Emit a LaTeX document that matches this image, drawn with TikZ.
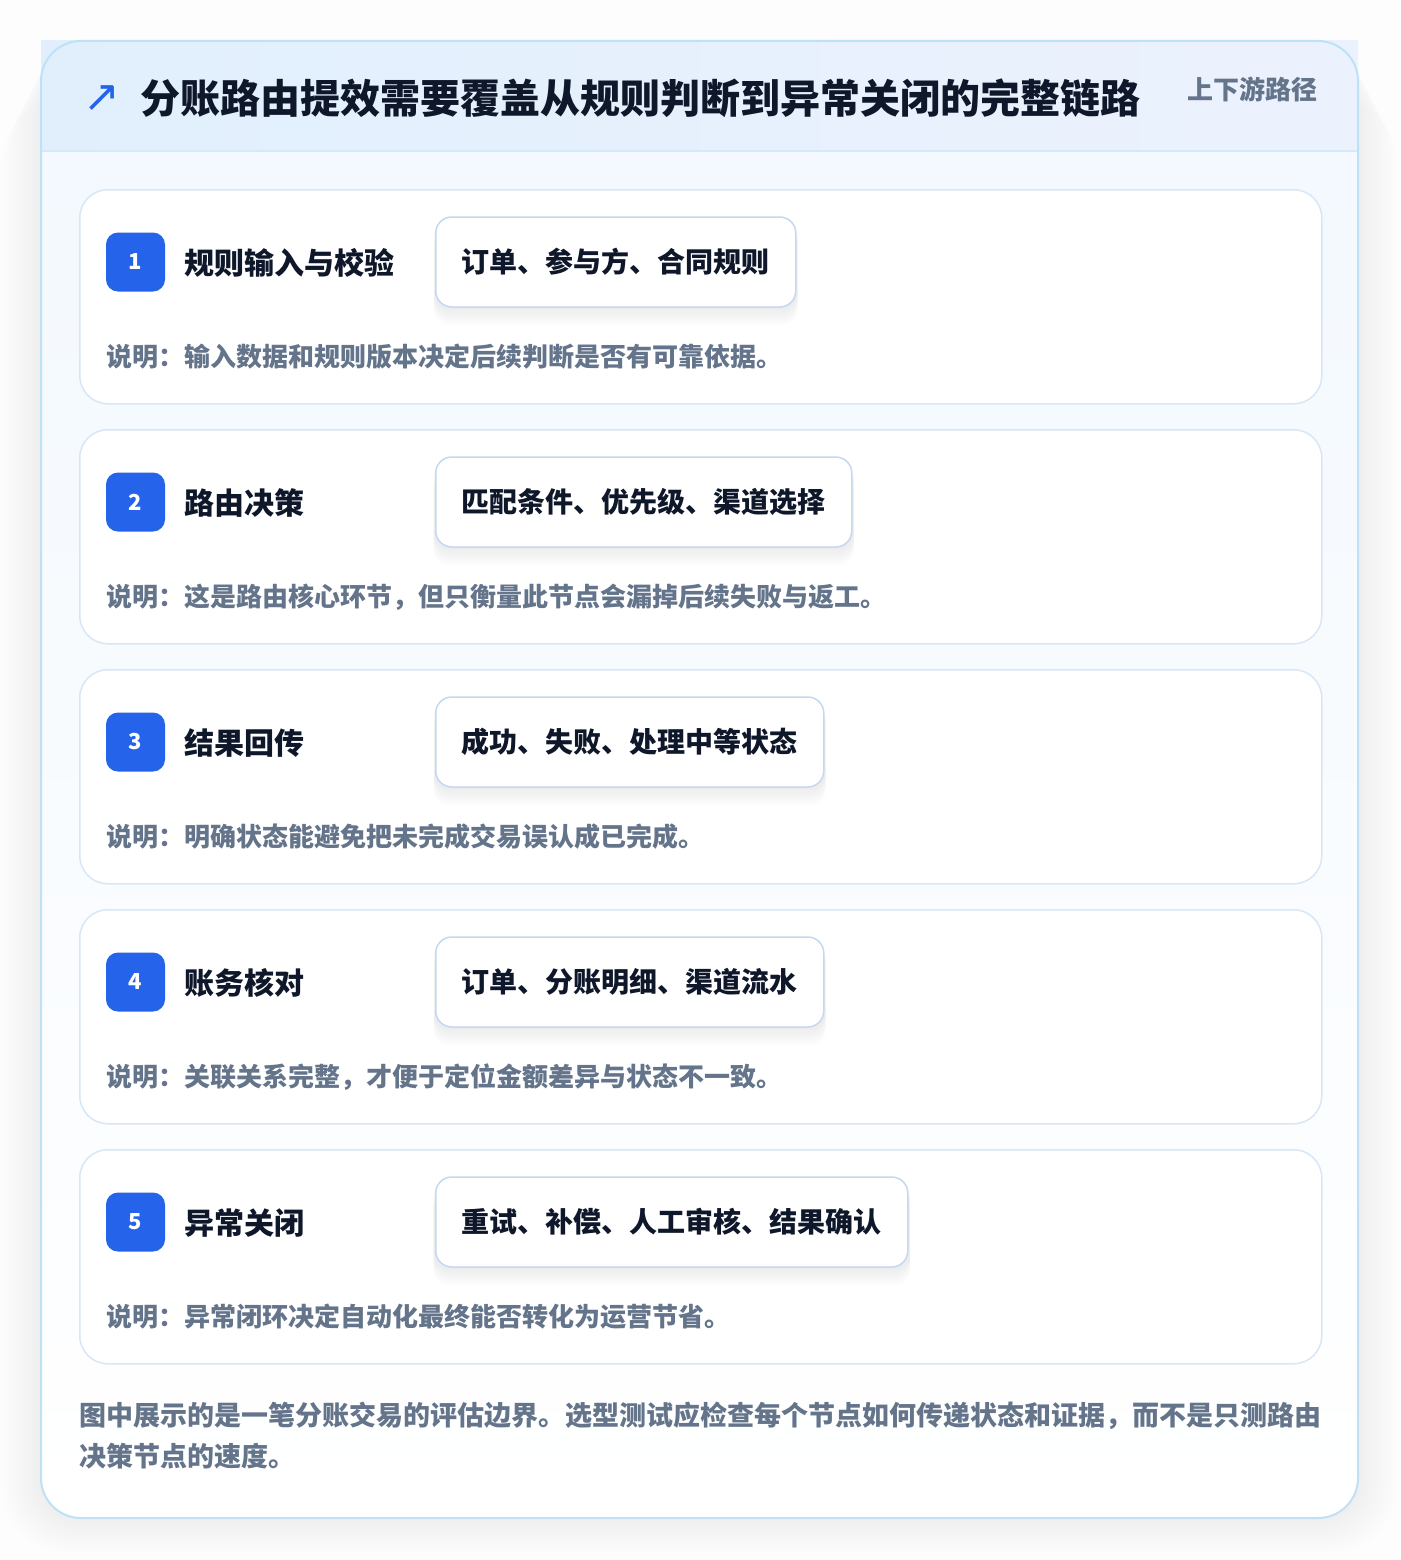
\documentclass[tikz,border=0pt]{standalone}
\usepackage{fontspec}
\setmainfont{Noto Sans CJK SC}
\newfontfamily\symfont{DejaVu Sans}
\usetikzlibrary{shadows}

\definecolor{pagebg}{HTML}{FDFDFE}
\definecolor{frameline}{HTML}{BFE1F6}
\definecolor{headleft}{HTML}{E1EFFD}
\definecolor{headright}{HTML}{ECF2FD}
\definecolor{bodytop}{HTML}{F2F8FE}
\definecolor{cardline}{HTML}{D8E7F7}
\definecolor{tagline}{HTML}{C3D8F2}
\definecolor{badgeblue}{HTML}{2563EB}
\definecolor{inkdark}{HTML}{0F172A}
\definecolor{inkgray}{HTML}{64748B}

\tikzset{
  stepcard/.style={draw=cardline, line width=1.5pt, fill=white, rounded corners=28pt,
    anchor=north west, minimum width=1242pt, minimum height=214pt, inner sep=0},
  badge/.style={fill=badgeblue, rounded corners=12pt, minimum width=59pt, minimum height=59pt,
    inner sep=0, text=white, font=\fontsize{22}{22}\selectfont\bfseries},
  steptitle/.style={anchor=west, inner sep=0, text=inkdark, font=\fontsize{30}{30}\selectfont\bfseries},
  softshadow/.style={drop shadow={shadow xshift=0pt, shadow yshift=-#1pt, opacity=.01, fill=inkdark, shadow scale=1.01}},
  tag/.style={anchor=west, draw=tagline, line width=1.5pt, fill=white, rounded corners=16pt,
    minimum height=90pt, inner xsep=26pt, text=inkdark, font=\fontsize{28}{28}\selectfont\bfseries,
    softshadow=3, softshadow=6, softshadow=9, softshadow=12, softshadow=15, softshadow=18},
  note/.style={anchor=west, inner sep=0, text=inkgray, font=\fontsize{26}{26}\selectfont\bfseries}
}

\begin{document}
\begin{tikzpicture}[x=1pt,y=-1pt]
  \fill[pagebg] (0,0) rectangle (1400,1560);
  \useasboundingbox (0,0) rectangle (1400,1560);

  \foreach \k in {1,...,14}
    \fill[black, opacity=0.005, rounded corners=40pt+\k*2pt] (41-\k*2.8, 41+\k*4) rectangle (1358+\k*2.8, 1518+\k*2.6);

  \shade[rounded corners=40pt, top color=bodytop, bottom color=white] (41,41) rectangle (1358,1518);
  \shade[left color=headleft, right color=headright] (41,41) rectangle (1358,151);
  \draw[frameline!70, line width=1.5pt] (41,151) -- (1358,151);
  \draw[frameline, line width=2pt, rounded corners=40pt] (41,41) rectangle (1358,1518);

  \node[text=badgeblue, inner sep=0, font=\symfont\fontsize{44}{44}\selectfont] (icon) at (102,99) {↗};
  \node[anchor=west, inner sep=0, text=inkdark, font=\fontsize{40}{40}\selectfont\bfseries] (heading) at (140,98) {分账路由提效需要覆盖从规则判断到异常关闭的完整链路};
  \node[anchor=east, inner sep=0, text=inkgray, font=\fontsize{26}{26}\selectfont\bfseries] (scope) at (1318,89) {上下游路径};

  \foreach \n/\ttl/\tg/\nt [count=\i from 0] in {
      1/规则输入与校验/订单、参与方、合同规则/说明：输入数据和规则版本决定后续判断是否有可靠依据。,
      2/路由决策/匹配条件、优先级、渠道选择/说明：这是路由核心环节，但只衡量此节点会漏掉后续失败与返工。,
      3/结果回传/成功、失败、处理中等状态/说明：明确状态能避免把未完成交易误认成已完成。,
      4/账务核对/订单、分账明细、渠道流水/说明：关联关系完整，才便于定位金额差异与状态不一致。,
      5/异常关闭/重试、补偿、人工审核、结果确认/说明：异常闭环决定自动化最终能否转化为运营节省。}{
    \pgfmathsetmacro\y{189+240*\i}
    \node[stepcard] (card\n) at (79,\y) {};
    \node[badge] (badge\n) at (135.5,\y+73) {\n};
    \node[steptitle] (title\n) at (184,\y+74) {\ttl};
    \node[tag] (tag\n) at (435,\y+73) {\tg};
    \node[note] (note\n) at (106,\y+168) {\nt};
  }

  \node[anchor=west, inner sep=0, align=left, text=inkgray, font=\fontsize{27}{41}\selectfont\bfseries] (summary) at (79,1436)
    {图中展示的是一笔分账交易的评估边界。选型测试应检查每个节点如何传递状态和证据，而不是只测路由\\决策节点的速度。};
\end{tikzpicture}
\end{document}
